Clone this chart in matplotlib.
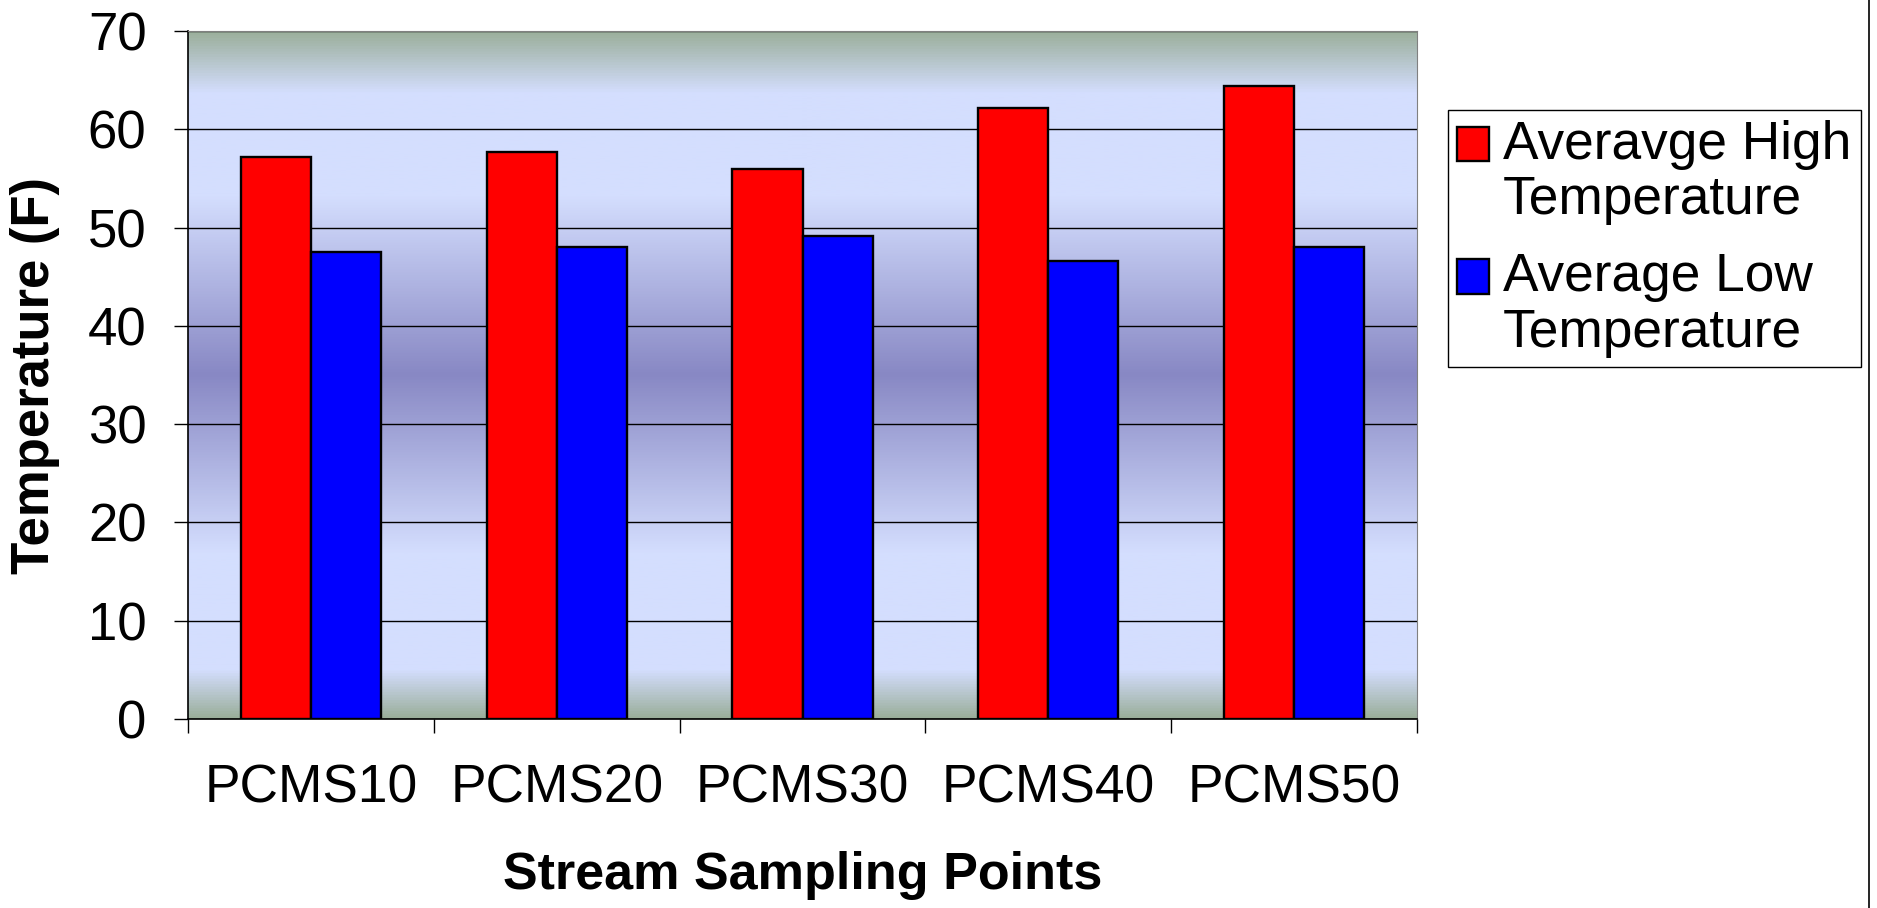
import numpy as np
import matplotlib
matplotlib.use('Agg')
import matplotlib.pyplot as plt
from matplotlib.colors import LinearSegmentedColormap
from matplotlib.lines import Line2D
from matplotlib.patches import Rectangle
from matplotlib.container import BarContainer
from matplotlib.legend_handler import HandlerPatch, update_from_first_child

plt.rcParams['font.family'] = ['Liberation Sans', 'DejaVu Sans']

sites = ['PCMS10', 'PCMS20', 'PCMS30', 'PCMS40', 'PCMS50']
high_temp = [57.2, 57.7, 56.0, 62.2, 64.4]   # Averavge High Temperature
low_temp = [47.5, 48.0, 49.1, 46.6, 48.0]    # Average Low Temperature

fig = plt.figure(figsize=(18.77, 9.08), dpi=100)
ax = fig.add_axes([0.1002, 0.2081, 0.6547, 0.7578])

# фон области построения: вертикальный градиент как в Excel
bg = LinearSegmentedColormap.from_list('bg', [
    (0.00, '#9aae9a'),
    (0.07, '#d4defe'),
    (0.24, '#d4defe'),
    (0.50, '#8888c4'),
    (0.76, '#d4defe'),
    (0.91, '#d4defe'),
    (1.00, '#9aae9a'),
])
grad = np.linspace(0, 1, 512).reshape(-1, 1)
ax.imshow(grad, cmap=bg, extent=[0, 1, 0, 1], transform=ax.transAxes,
          aspect='auto', origin='lower', zorder=0)

x = np.arange(len(sites))
w = 0.285
ax.bar(x - w / 2, high_temp, w, color='#ff0000', edgecolor='black',
       linewidth=1.7, label='Averavge High\nTemperature', zorder=2)
ax.bar(x + w / 2, low_temp, w, color='#0000ff', edgecolor='black',
       linewidth=1.7, label='Average Low\nTemperature', zorder=2)

ax.set_xlim(-0.5, len(sites) - 0.5)
ax.set_ylim(0, 70)
ax.set_yticks(range(0, 71, 10))
ax.yaxis.grid(True, color='black', linewidth=1.0)
ax.set_axisbelow(True)

# подписи категорий по центру, засечки между категориями
ax.set_xticks(x)
ax.set_xticklabels(sites)
ax.set_xticks(np.arange(-0.5, len(sites)), minor=True)
ax.tick_params(axis='x', which='major', length=0, pad=32, labelsize=38.3)
ax.tick_params(axis='x', which='minor', length=10, width=1.0, color='black')
ax.tick_params(axis='y', length=10, width=1.0, pad=20, labelsize=38)

for s in ['top', 'right']:
    ax.spines[s].set_color('#808080')
for s in ['left', 'bottom']:
    ax.spines[s].set_color('black')
    ax.spines[s].set_linewidth(1.2)

ax.set_xlabel('Stream Sampling Points', fontsize=37.5, fontweight='bold', labelpad=27)
ax.set_ylabel('Temperature (F)', fontsize=38, fontweight='bold', labelpad=20)


# маркер легенды на уровне первой строки подписи
def top_square(legend, orig_handle, xdescent, ydescent, width, height, fontsize):
    return Rectangle((-xdescent, -ydescent + 0.55 * fontsize), width, height)


leg_fs = 38.3
leg = ax.legend(loc='upper left', bbox_to_anchor=(0.7714, 0.8789),
                bbox_transform=fig.transFigure, fontsize=leg_fs, frameon=True,
                fancybox=False, edgecolor='black', framealpha=1,
                handlelength=0.6, handleheight=0.62, handletextpad=0.25,
                borderpad=0.18, labelspacing=0.5, borderaxespad=0,
                handler_map={BarContainer: HandlerPatch(
                    patch_func=top_square, update_func=update_from_first_child)})
leg.get_frame().set_linewidth(1.0)
for t in leg.get_texts():
    t.set_linespacing(1.15)

# правая граница рисунка
fig.add_artist(Line2D([0.9957, 0.9957], [0, 1], transform=fig.transFigure,
                      color='black', linewidth=1.2))

fig.savefig('out.png', dpi=100, facecolor='white')
